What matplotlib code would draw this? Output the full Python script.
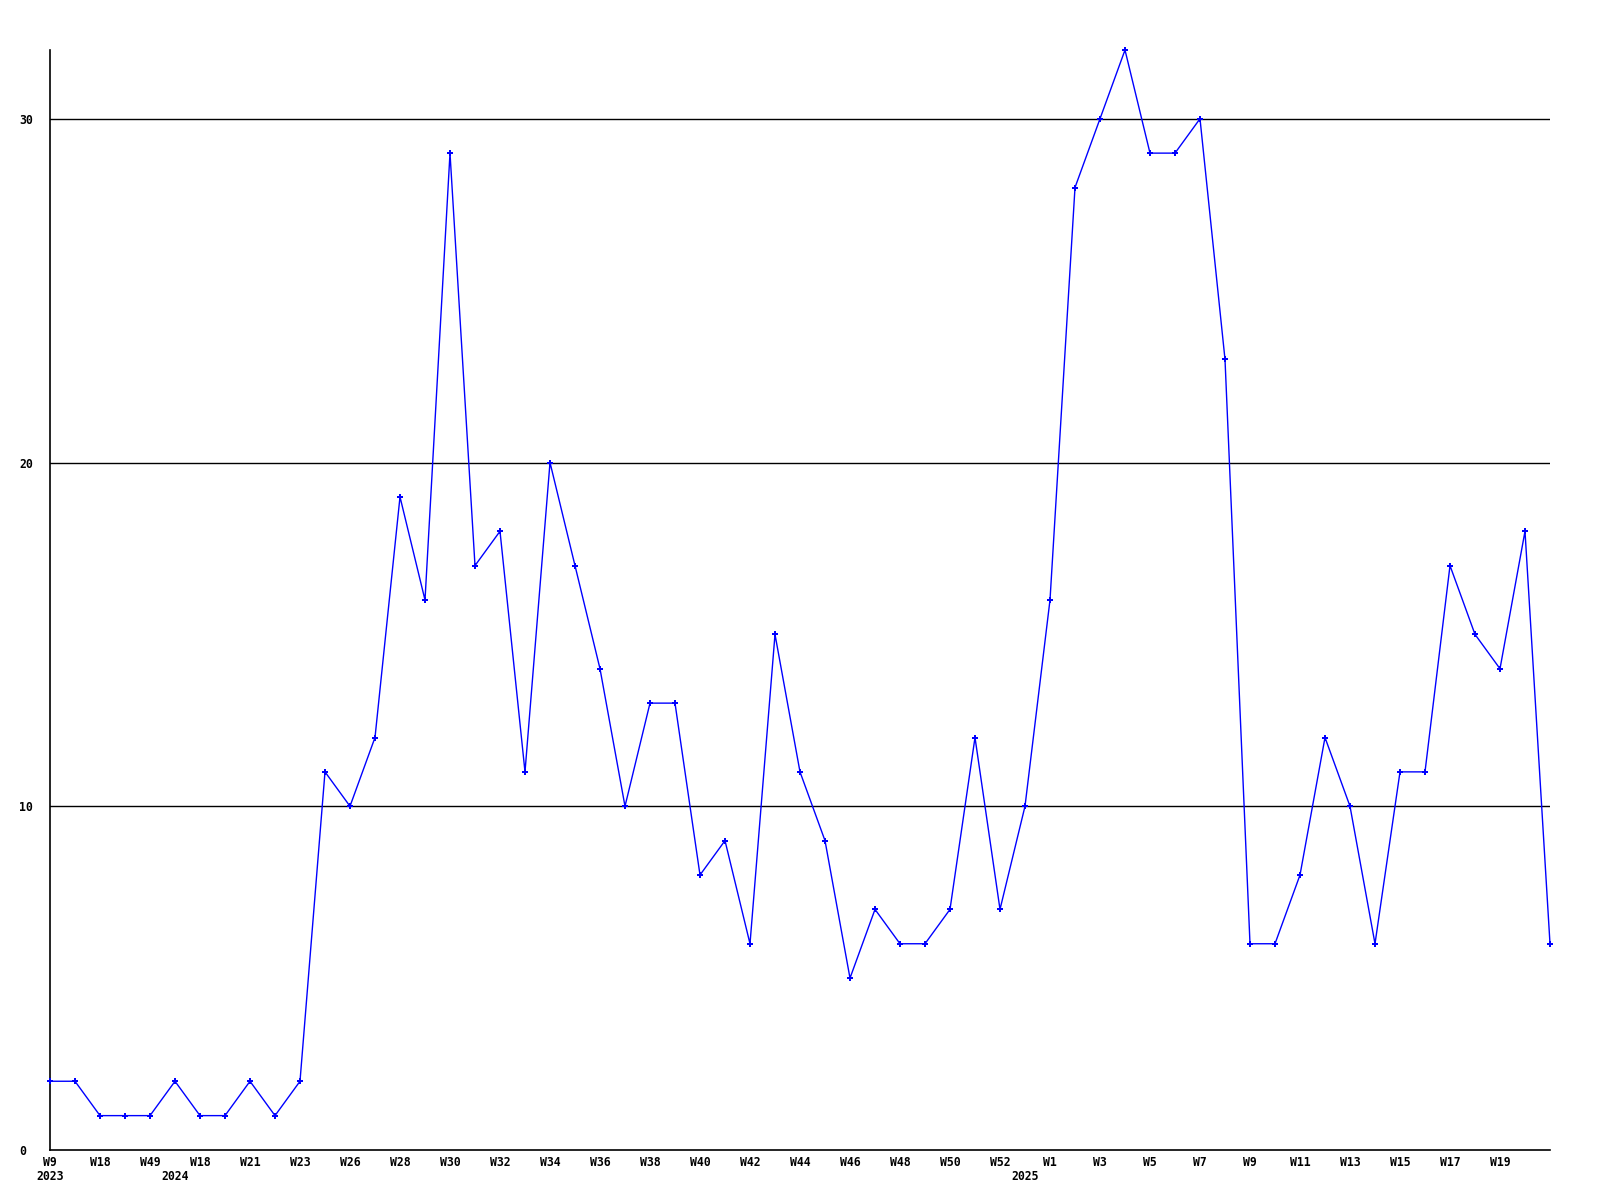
import matplotlib
matplotlib.use("Agg")
import matplotlib.pyplot as plt
import matplotlib.transforms as mtransforms

values = [2, 2, 1, 1, 1, 2, 1, 1, 2, 1, 2, 11, 10, 12, 19, 16, 29, 17, 18, 11,
          20, 17, 14, 10, 13, 13, 8, 9, 6, 15, 11, 9, 5, 7, 6, 6, 7, 12, 7, 10,
          16, 28, 30, 32, 29, 29, 30, 23, 6, 6, 8, 12, 10, 6, 11, 11, 17, 15, 14, 18, 6]
week_labels = ["W9", "W18", "W49", "W18", "W21", "W23", "W26", "W28", "W30", "W32",
               "W34", "W36", "W38", "W40", "W42", "W44", "W46", "W48", "W50", "W52",
               "W1", "W3", "W5", "W7", "W9", "W11", "W13", "W15", "W17", "W19"]
week_positions = list(range(0, 60, 2))
year_labels = ["2023", "2024", "2025"]
year_positions = [0, 5, 39]
y_ticks = [0, 10, 20, 30]

font = dict(family="DejaVu Sans Mono", weight="bold", size=8.3)

fig = plt.figure(figsize=(16, 12), dpi=100)
ax = fig.add_axes([50/1600, 50/1200, 1500/1600, 1100/1200])
x = list(range(len(values)))
ax.plot(x, values, color="#0000ff", linewidth=1, marker="P", markersize=4,
        markeredgewidth=0, zorder=3, clip_on=False)
ax.set_xlim(0, len(values) - 1)
ax.set_ylim(0, 32)
for v in y_ticks[1:]:
    ax.axhline(v, color="black", linewidth=1, zorder=2)
for s in ["top", "right"]:
    ax.spines[s].set_visible(False)
for s in ["left", "bottom"]:
    ax.spines[s].set_linewidth(1.2)
ax.set_yticks(y_ticks)
ax.set_yticklabels([str(v) for v in y_ticks], **font)
for lbl in ax.get_yticklabels():
    lbl.set_horizontalalignment("left")
ax.tick_params(axis="y", length=0, pad=22)
ax.set_xticks(week_positions)
ax.set_xticklabels(week_labels, **font)
ax.tick_params(axis="x", length=0, pad=4)
trans = mtransforms.blended_transform_factory(ax.transData, ax.transAxes)
for p, lab in zip(year_positions, year_labels):
    ax.text(p, -27/1100, lab, transform=trans, ha="center", va="center", **font)
fig.savefig("out.png", dpi=100, facecolor="white")
